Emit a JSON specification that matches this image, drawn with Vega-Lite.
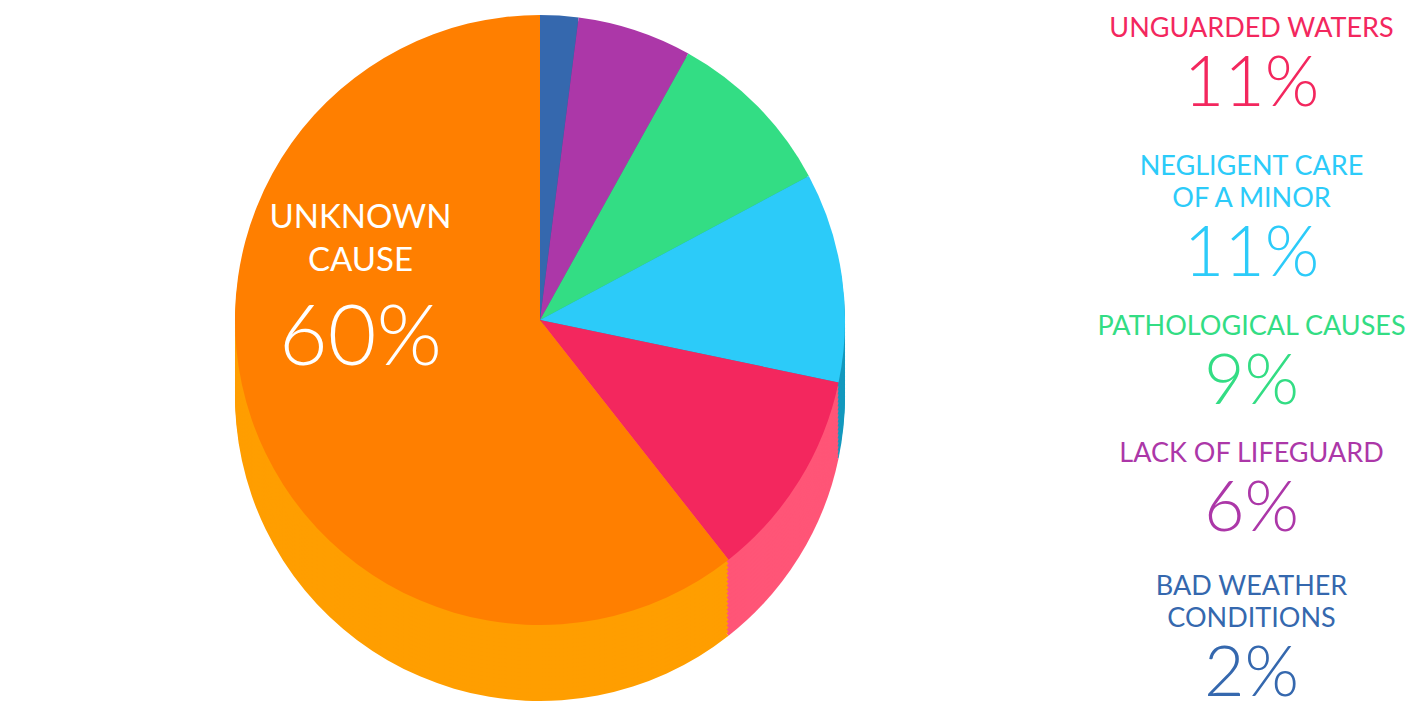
{
  "$schema": "https://vega.github.io/schema/vega-lite/v6.json",
  "padding": 0,
  "spacing": 0,
  "bounds": "flush",
  "background": "white",
  "config": {"view": {"stroke": null}, "text": {"font": "Lato"}},
  "datasets": {
    "causes": [
      {"name": "Bad weather conditions", "label": "BAD WEATHER\nCONDITIONS", "value": 0.02, "rank": 1},
      {"name": "Lack of lifeguard", "label": "LACK OF LIFEGUARD", "value": 0.06, "rank": 2},
      {"name": "Pathological causes", "label": "PATHOLOGICAL CAUSES", "value": 0.09, "rank": 3},
      {"name": "Negligent care of a minor", "label": "NEGLIGENT CARE\nOF A MINOR", "value": 0.11, "rank": 4},
      {"name": "Unguarded waters", "label": "UNGUARDED WATERS", "value": 0.11, "rank": 5},
      {"name": "Unknown cause", "label": "UNKNOWN\nCAUSE", "value": 0.60, "rank": 6}
    ]
  },
  "hconcat": [
    {
      "width": 1080,
      "height": 640,
      "data": {"name": "causes"},
      "layer": [
        {
          "encoding": {
            "theta": {"field": "value", "type": "quantitative", "stack": true},
            "order": {"field": "rank", "type": "quantitative"},
            "color": {
              "field": "name", "type": "nominal", "legend": null,
              "scale": {
                "domain": ["Bad weather conditions", "Lack of lifeguard", "Pathological causes", "Negligent care of a minor", "Unguarded waters", "Unknown cause"],
                "range": ["#2A5490", "#8A2A88", "#22B86A", "#1499BE", "#FF5577", "#FF9E00"]
              }
            }
          },
          "layer": [
            {"mark": {"type": "arc", "radius": 305, "yOffset": 76}},
            {"mark": {"type": "arc", "radius": 305, "yOffset": 72}},
            {"mark": {"type": "arc", "radius": 305, "yOffset": 68}},
            {"mark": {"type": "arc", "radius": 305, "yOffset": 64}},
            {"mark": {"type": "arc", "radius": 305, "yOffset": 60}},
            {"mark": {"type": "arc", "radius": 305, "yOffset": 56}},
            {"mark": {"type": "arc", "radius": 305, "yOffset": 52}},
            {"mark": {"type": "arc", "radius": 305, "yOffset": 48}},
            {"mark": {"type": "arc", "radius": 305, "yOffset": 44}},
            {"mark": {"type": "arc", "radius": 305, "yOffset": 40}},
            {"mark": {"type": "arc", "radius": 305, "yOffset": 36}},
            {"mark": {"type": "arc", "radius": 305, "yOffset": 32}},
            {"mark": {"type": "arc", "radius": 305, "yOffset": 28}},
            {"mark": {"type": "arc", "radius": 305, "yOffset": 24}},
            {"mark": {"type": "arc", "radius": 305, "yOffset": 20}},
            {"mark": {"type": "arc", "radius": 305, "yOffset": 16}},
            {"mark": {"type": "arc", "radius": 305, "yOffset": 12}},
            {"mark": {"type": "arc", "radius": 305, "yOffset": 8}},
            {"mark": {"type": "arc", "radius": 305, "yOffset": 4}}
          ]
        },
        {
          "encoding": {
            "theta": {"field": "value", "type": "quantitative", "stack": true},
            "order": {"field": "rank", "type": "quantitative"},
            "color": {
              "field": "name", "type": "nominal", "legend": null,
              "scale": {
                "domain": ["Bad weather conditions", "Lack of lifeguard", "Pathological causes", "Negligent care of a minor", "Unguarded waters", "Unknown cause"],
                "range": ["#3568AE", "#AC37A8", "#33DD84", "#2CCBF9", "#F3275E", "#FF7F00"]
              }
            }
          },
          "mark": {"type": "arc", "radius": 305}
        },
        {
          "encoding": {
            "theta": {"field": "value", "type": "quantitative", "stack": true},
            "order": {"field": "rank", "type": "quantitative"},
            "opacity": {"condition": {"test": "datum.rank === 6", "value": 1}, "value": 0}
          },
          "layer": [
            {
              "mark": {"type": "text", "clip": true, "radius": 190, "dy": -147, "fontSize": 33, "fontWeight": 400, "lineBreak": "\n", "lineHeight": 43, "baseline": "bottom", "align": "center", "fill": "white"},
              "encoding": {"text": {"field": "label", "type": "nominal"}}
            },
            {
              "mark": {"type": "text", "clip": true, "radius": 190, "dy": -42, "fontSize": 84, "fontWeight": 300, "baseline": "middle", "align": "center", "fill": "white"},
              "encoding": {"text": {"field": "value", "type": "quantitative", "format": ".0%"}}
            }
          ]
        }
      ],
      "resolve": {"scale": {"color": "independent"}}
    },
    {
      "width": 343,
      "height": 703,
      "data": {"name": "causes"},
      "transform": [{"filter": "datum.rank < 6"}],
      "encoding": {
        "y": {"field": "rank", "type": "quantitative", "axis": null, "scale": {"domain": [5, 4, 3, 2, 1], "range": [85, 255, 383, 510, 675], "zero": false, "nice": false}},
        "color": {
          "field": "name", "type": "nominal", "legend": null,
          "scale": {
            "domain": ["Bad weather conditions", "Lack of lifeguard", "Pathological causes", "Negligent care of a minor", "Unguarded waters"],
            "range": ["#3568AE", "#AC37A8", "#33DD84", "#2CCBF9", "#F3275E"]
          }
        }
      },
      "layer": [
        {
          "transform": [{"filter": "indexof(datum.label, '\\n') < 0"}],
          "mark": {"type": "text", "baseline": "bottom", "dy": -42, "fontSize": 27, "fontWeight": 400, "lineBreak": "\n", "lineHeight": 32, "align": "center"},
          "encoding": {"text": {"field": "label", "type": "nominal"}}
        },
        {
          "transform": [{"filter": "indexof(datum.label, '\\n') >= 0"}],
          "mark": {"type": "text", "baseline": "bottom", "dy": -74, "fontSize": 27, "fontWeight": 400, "lineBreak": "\n", "lineHeight": 32, "align": "center"},
          "encoding": {"text": {"field": "label", "type": "nominal"}}
        },
        {
          "mark": {"type": "text", "baseline": "middle", "fontSize": 70, "fontWeight": 300, "align": "center"},
          "encoding": {"text": {"field": "value", "type": "quantitative", "format": ".0%"}}
        }
      ]
    }
  ]
}
